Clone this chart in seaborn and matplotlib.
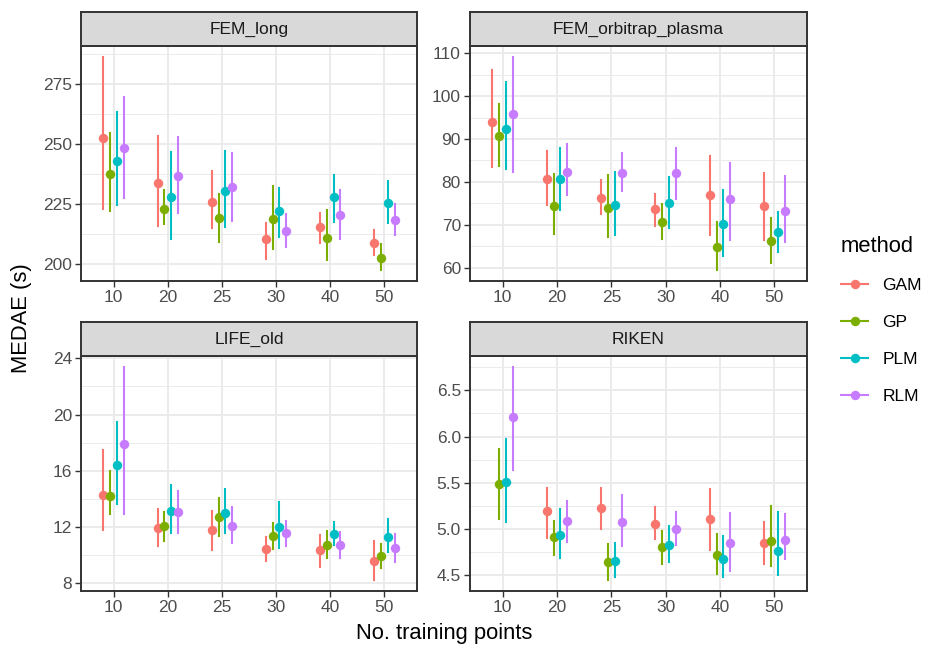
import numpy as np
import pandas as pd
import seaborn as sns
import matplotlib
matplotlib.use("Agg")
import matplotlib.pyplot as plt
from matplotlib.lines import Line2D
from matplotlib.ticker import AutoMinorLocator, FixedLocator

# ---------------- data ----------------
train_points = ["10", "20", "25", "30", "40", "50"]
methods = ["GAM", "GP", "PLM", "RLM"]
datasets = ["FEM_long", "FEM_orbitrap_plasma", "LIFE_old", "RIKEN"]
colors = ["#F8766D", "#7CAE00", "#00BFC4", "#C77CFF"]

# FEM_long: median, lower, upper per method across train_points
fem_long_mid = {
    "GAM": [252.5, 233.6, 225.7, 210.3, 215.2, 208.7],
    "GP":  [237.3, 223.0, 219.2, 218.5, 210.7, 202.4],
    "PLM": [242.7, 227.9, 230.3, 221.8, 227.9, 225.5],
    "RLM": [248.4, 236.4, 232.1, 213.6, 220.4, 218.1],
}
fem_long_lo = {
    "GAM": [223.0, 215.9, 214.8, 202.0, 208.7, 203.8],
    "GP":  [222.0, 216.6, 209.2, 206.1, 201.4, 197.2],
    "PLM": [224.6, 210.3, 215.2, 211.2, 217.3, 216.9],
    "RLM": [227.6, 221.1, 218.0, 206.8, 210.4, 211.8],
}
fem_long_hi = {
    "GAM": [286.4, 253.4, 238.6, 217.0, 221.1, 214.1],
    "GP":  [254.7, 230.7, 229.2, 232.5, 222.2, 208.3],
    "PLM": [263.3, 246.4, 247.0, 231.6, 236.9, 234.3],
    "RLM": [269.5, 252.9, 246.3, 220.8, 230.6, 224.7],
}

# FEM_orbitrap_plasma
fem_orb_mid = {
    "GAM": [94.0, 80.8, 76.3, 73.6, 77.0, 74.4],
    "GP":  [90.6, 74.3, 74.0, 70.7, 64.8, 66.3],
    "PLM": [92.4, 80.6, 74.7, 75.0, 70.2, 68.3],
    "RLM": [95.8, 82.4, 82.1, 82.1, 76.0, 73.3],
}
fem_orb_lo = {
    "GAM": [83.5, 74.6, 72.5, 69.7, 67.6, 66.4],
    "GP":  [83.7, 67.8, 67.1, 66.8, 59.4, 61.0],
    "PLM": [83.1, 73.5, 67.6, 69.3, 62.8, 63.7],
    "RLM": [82.3, 76.9, 77.8, 76.0, 66.5, 65.9],
}
fem_orb_hi = {
    "GAM": [106.1, 87.1, 80.5, 77.3, 86.0, 82.0],
    "GP":  [98.1, 81.9, 81.6, 74.9, 70.7, 71.7],
    "PLM": [103.3, 87.8, 82.3, 81.2, 78.1, 73.0],
    "RLM": [109.2, 88.9, 86.8, 87.8, 84.5, 81.4],
}

# LIFE_old
life_mid = {
    "GAM": [14.28, 11.92, 11.78, 10.42, 10.37, 9.57],
    "GP":  [14.21, 12.03, 12.71, 11.33, 10.72, 9.93],
    "PLM": [16.37, 13.16, 12.97, 12.01, 11.49, 11.31],
    "RLM": [17.91, 13.04, 12.06, 11.59, 10.70, 10.46],
}
life_lo = {
    "GAM": [11.80, 10.67, 10.32, 9.60, 9.13, 8.19],
    "GP":  [12.90, 11.00, 11.35, 10.39, 9.81, 9.06],
    "PLM": [13.65, 11.59, 11.54, 10.46, 10.70, 10.18],
    "RLM": [12.88, 11.56, 10.84, 10.65, 9.76, 9.50],
}
life_hi = {
    "GAM": [17.47, 13.25, 13.13, 11.26, 11.40, 11.00],
    "GP":  [15.99, 13.04, 14.05, 12.27, 11.68, 10.81],
    "PLM": [19.48, 15.01, 14.68, 13.74, 12.34, 12.59],
    "RLM": [23.41, 14.56, 13.39, 12.41, 11.64, 11.47],
}

# RIKEN (GAM has no value at 10)
riken_mid = {
    "GAM": [np.nan, 5.187, 5.226, 5.047, 5.105, 4.847],
    "GP":  [5.480, 4.908, 4.643, 4.797, 4.718, 4.869],
    "PLM": [5.505, 4.933, 4.654, 4.826, 4.672, 4.758],
    "RLM": [6.207, 5.087, 5.069, 5.001, 4.840, 4.879],
}
riken_lo = {
    "GAM": [np.nan, 4.901, 4.997, 4.886, 4.772, 4.618],
    "GP":  [5.108, 4.715, 4.439, 4.614, 4.504, 4.593],
    "PLM": [5.072, 4.686, 4.479, 4.643, 4.479, 4.500],
    "RLM": [5.641, 4.858, 4.811, 4.822, 4.536, 4.675],
}
riken_hi = {
    "GAM": [np.nan, 5.441, 5.441, 5.233, 5.430, 5.076],
    "GP":  [5.867, 5.087, 4.829, 4.979, 4.944, 5.248],
    "PLM": [5.978, 5.212, 4.840, 5.033, 4.922, 5.180],
    "RLM": [6.758, 5.305, 5.362, 5.176, 5.169, 5.162],
}

yticks = {
    "FEM_long": [200, 225, 250, 275],
    "FEM_orbitrap_plasma": [60, 70, 80, 90, 100, 110],
    "LIFE_old": [8, 12, 16, 20, 24],
    "RIKEN": [4.5, 5.0, 5.5, 6.0, 6.5],
}
ytick_labels = {
    "FEM_long": ["200", "225", "250", "275"],
    "FEM_orbitrap_plasma": ["60", "70", "80", "90", "100", "110"],
    "LIFE_old": ["8", "12", "16", "20", "24"],
    "RIKEN": ["4.5", "5.0", "5.5", "6.0", "6.5"],
}

panel_data = {
    "FEM_long": (fem_long_mid, fem_long_lo, fem_long_hi),
    "FEM_orbitrap_plasma": (fem_orb_mid, fem_orb_lo, fem_orb_hi),
    "LIFE_old": (life_mid, life_lo, life_hi),
    "RIKEN": (riken_mid, riken_lo, riken_hi),
}

# long table: three rows (lo, mid, hi) per point -> median = mid, range = lo..hi
rows = []
for ds in datasets:
    mid, lo, hi = panel_data[ds]
    for m in methods:
        for i, tp in enumerate(train_points):
            for v in (lo[m][i], mid[m][i], hi[m][i]):
                if not np.isnan(v):
                    rows.append({"dataset": ds, "method": m, "n": tp, "MEDAE": v})
df = pd.DataFrame(rows)

# ---------------- style ----------------
plt.rcParams["font.family"] = ["Liberation Sans", "DejaVu Sans"]
grey20 = "#333333"
grey30 = "#4D4D4D"
grid_c = "#EBEBEB"

W, H = 933, 648
fig = plt.figure(figsize=(W / 100, H / 100), dpi=100)

# panel boxes in pixels: (left, top, right, bottom)
boxes = {
    "FEM_long": (81, 46, 417, 281),
    "FEM_orbitrap_plasma": (470, 46, 807, 281),
    "LIFE_old": (81, 356, 417, 591),
    "RIKEN": (470, 356, 807, 591),
}
strip_h = 34

def frac(l, t, r, b):
    return [l / W, 1 - b / H, (r - l) / W, (b - t) / H]

palette = dict(zip(methods, colors))
msize = 6.8

for ds in datasets:
    l, t, r, b = boxes[ds]
    ax = fig.add_axes(frac(l, t, r, b))
    sub = df[df["dataset"] == ds]
    sns.pointplot(
        data=sub, x="n", y="MEDAE", hue="method",
        order=train_points, hue_order=methods, palette=palette,
        estimator="median", errorbar=lambda v: (np.min(v), np.max(v)),
        dodge=0.375, linestyle="none", markers="o",
        markersize=msize, markeredgewidth=0,
        err_kws={"linewidth": 1.5}, capsize=0,
        legend=False, ax=ax, zorder=3,
    )
    vals = sub["MEDAE"].values
    lo_v, hi_v = vals.min(), vals.max()
    rng = hi_v - lo_v
    ax.set_ylim(lo_v - 0.05 * rng, hi_v + 0.05 * rng)
    ax.set_xlim(-0.6, len(train_points) - 0.4)
    ax.yaxis.set_major_locator(FixedLocator(yticks[ds]))
    ax.set_yticks(yticks[ds])
    ax.set_yticklabels(ytick_labels[ds])
    ax.yaxis.set_minor_locator(AutoMinorLocator(2))
    ax.set_facecolor("white")
    ax.set_axisbelow(True)
    ax.grid(True, which="major", color=grid_c, linewidth=1.4)
    ax.grid(True, which="minor", axis="y", color=grid_c, linewidth=0.7)
    ax.tick_params(axis="both", which="major", length=4, width=1.0,
                   color=grey20, labelsize=12.5, labelcolor=grey30, pad=2.5)
    ax.tick_params(axis="y", which="minor", length=0)
    for s in ax.spines.values():
        s.set_color(grey20)
        s.set_linewidth(1.4)
        s.set_zorder(5)
    ax.set_xlabel("")
    ax.set_ylabel("")

    # strip
    sax = fig.add_axes(frac(l, t - strip_h, r, t))
    sax.set_facecolor("#D9D9D9")
    sax.set_xticks([])
    sax.set_yticks([])
    for s in sax.spines.values():
        s.set_color(grey20)
        s.set_linewidth(1.4)
    sax.text(0.5, 0.5, ds, ha="center", va="center", fontsize=12.5,
             color="#1A1A1A", transform=sax.transAxes)

fig.text(444 / W, 1 - 634 / H, "No. training points", ha="center", va="center",
         fontsize=15.8, color="black")
fig.text(22 / W, 1 - 318 / H, "MEDAE (s)", ha="center", va="center",
         rotation=90, fontsize=15.8, color="black")

handles = [Line2D([0], [0], color=c, marker="o", markersize=msize,
                  markeredgewidth=0, linewidth=1.5) for c in colors]
leg = fig.legend(handles, methods, title="method", loc="upper left",
                 bbox_to_anchor=(825 / W, 1 - 220 / H), frameon=False,
                 fontsize=12.5, title_fontsize=15.8, handlelength=1.6,
                 handletextpad=0.8, labelspacing=1.25, alignment="left")

fig.savefig("out.png", dpi=100)
